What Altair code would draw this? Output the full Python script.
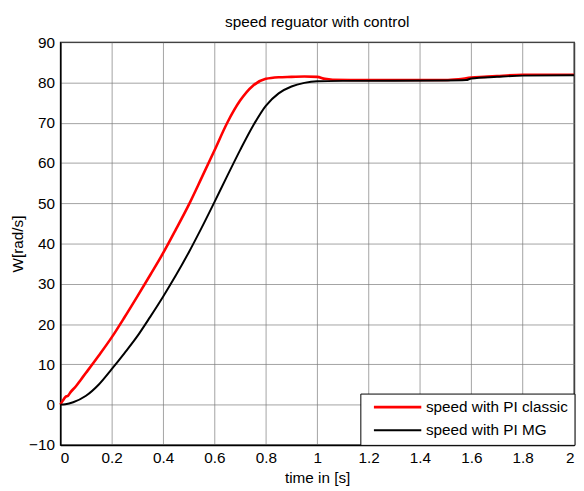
import altair as alt
import pandas as pd

# --- data ---
series_names = ["speed with PI classic", "speed with PI MG"]

t_classic = [0, 0.01, 0.02, 0.03, 0.04, 0.06, 0.08, 0.1, 0.15, 0.2, 0.25, 0.3, 0.35,
             0.4, 0.45, 0.5, 0.55, 0.6, 0.65, 0.7, 0.75, 0.8, 0.85, 0.9, 0.95, 1.0, 1.03,
             1.06, 1.2, 1.5, 1.55, 1.6, 1.65, 1.7, 1.8, 2.0]
w_classic = [0, 1.0, 1.9, 2.2, 3.1, 4.5, 6.2, 7.9, 12.2, 16.7, 21.7, 26.9, 32.2,
             37.6, 43.5, 49.6, 56.3, 63.1, 70.0, 75.5, 79.2, 80.9, 81.3, 81.4, 81.5, 81.4, 80.9,
             80.7, 80.6, 80.6, 80.8, 81.2, 81.4, 81.6, 81.9, 81.9]

t_mg = [0, 0.02, 0.05, 0.1, 0.15, 0.2, 0.25, 0.3, 0.35, 0.4, 0.45, 0.5, 0.55, 0.6,
        0.65, 0.7, 0.75, 0.8, 0.85, 0.9, 0.95, 1.0, 1.1, 1.5, 1.58, 1.6, 1.7, 1.8, 2.0]
w_mg = [0, 0.1, 0.6, 2.2, 5.0, 8.8, 12.8, 17.0, 21.8, 26.8, 32.1, 37.8, 43.9, 50.3,
        56.8, 63.2, 69.2, 74.2, 77.3, 79.0, 79.9, 80.3, 80.4, 80.5, 80.6, 81.0, 81.4, 81.7, 81.8]

line_widths = [2.6, 2.0]
x_ticks = [0, 0.2, 0.4, 0.6, 0.8, 1, 1.2, 1.4, 1.6, 1.8, 2]
y_ticks = [-10, 0, 10, 20, 30, 40, 50, 60, 70, 80, 90]

df = pd.concat([
    pd.DataFrame({"t": t_classic, "w": w_classic, "series": series_names[0], "o": 0}),
    pd.DataFrame({"t": t_mg, "w": w_mg, "series": series_names[1], "o": 1}),
])

FONT = "Liberation Sans"
FS = 15.5

chart = alt.Chart(df).mark_line(interpolate="monotone").encode(
    x=alt.X("t:Q", scale=alt.Scale(domain=[0, 2], nice=False),
            axis=alt.Axis(values=x_ticks, format="~g", title="time in [s]",
                          labelPadding=6, titlePadding=5)),
    y=alt.Y("w:Q", scale=alt.Scale(domain=[-10, 90], nice=False),
            axis=alt.Axis(values=y_ticks, title="W[rad/s]", labelPadding=6,
                          titlePadding=3.5)),
    color=alt.Color("series:N",
                    scale=alt.Scale(domain=series_names, range=["#ff0000", "#000000"]),
                    legend=alt.Legend(title=None, orient="bottom-right", offset=0,
                                      symbolType="M0,0H8", symbolSize=144,
                                      symbolStrokeWidth=2.5,
                                      labelOffset=45, padding=6, rowPadding=6.5,
                                      strokeColor="black", fillColor="white",
                                      labelFont=FONT, labelFontSize=FS,
                                      labelColor="black", labelLimit=300)),
    strokeWidth=alt.StrokeWidth("series:N",
                                scale=alt.Scale(domain=series_names, range=line_widths),
                                legend=None),
    order=alt.Order("o:Q"),
).properties(
    width=520.5,
    height=408,
    title=alt.TitleParams("speed reguator with control", font=FONT, fontSize=FS,
                          fontWeight="normal", color="black", offset=5),
    autosize=alt.AutoSizeParams(type="none"),
    padding={"left": 53, "top": 31.5, "right": 2, "bottom": 40},
).configure_view(
    stroke="black", strokeWidth=1.3
).configure_axis(
    grid=True, gridColor="#7a7a7a", gridWidth=0.7,
    domainColor="black", domainWidth=1.5,
    ticks=False, tickSize=0,
    labelFont=FONT, labelFontSize=FS, labelColor="black",
    titleFont=FONT, titleFontSize=FS, titleFontWeight="normal", titleColor="black",
)

chart.save("out.html", embed_options={"renderer": "svg", "actions": False})
